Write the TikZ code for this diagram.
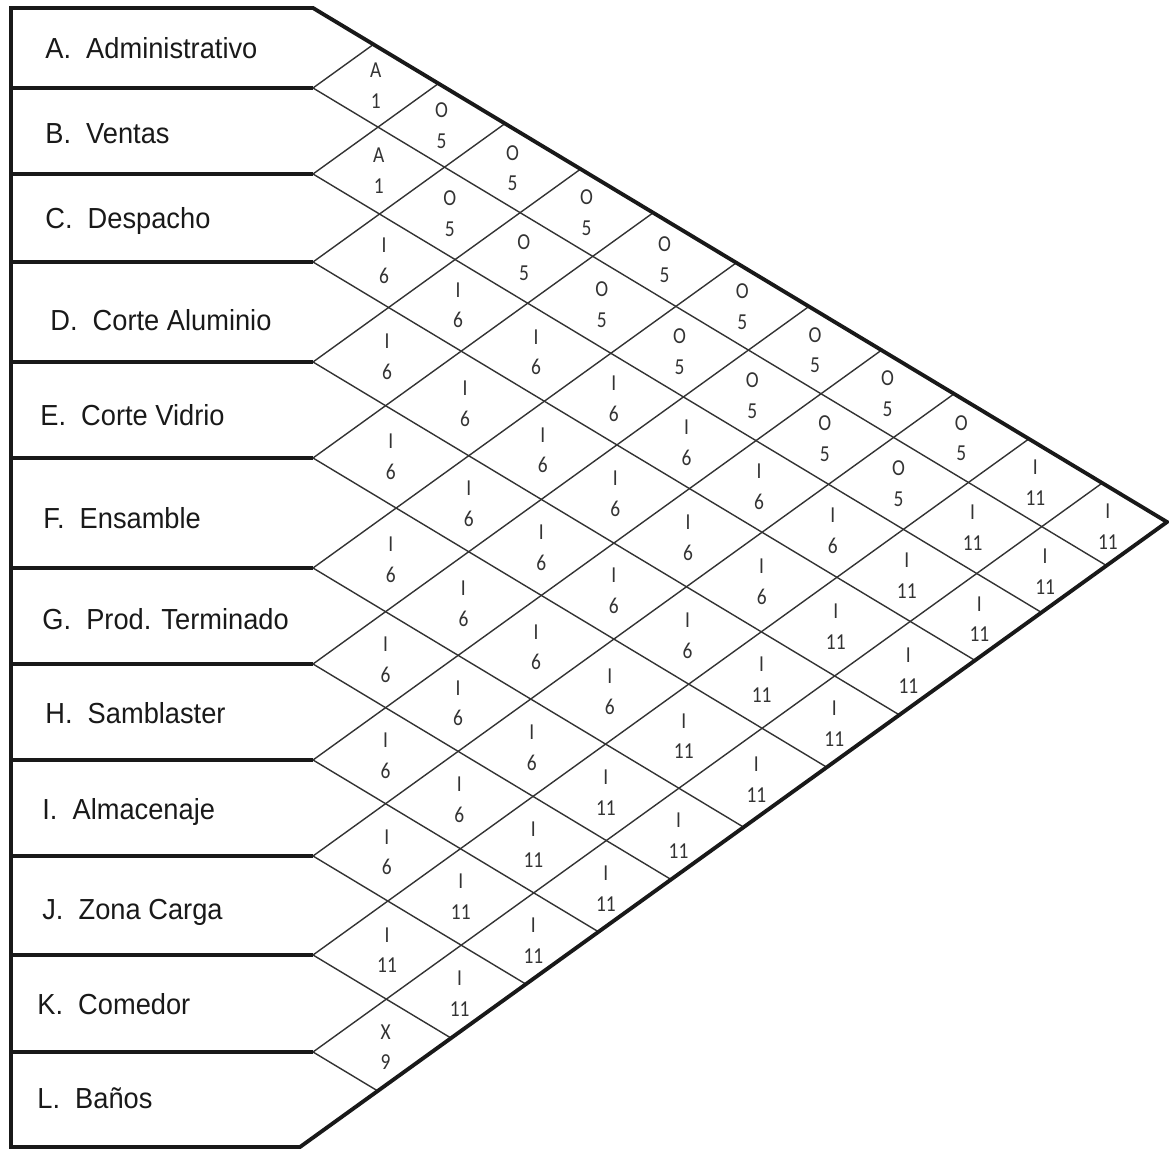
\documentclass[tikz,border=0pt]{standalone}
\usepackage{fontspec}
\setmainfont[FakeStretch=0.94]{Liberation Sans}
\newfontfamily\relfont[FakeStretch=0.85]{Carlito}
\usetikzlibrary{calc}

\tikzset{
    frame/.style={line width=2.2pt, black!90},
    lattice/.style={line width=0.8pt, black!80},
    dept/.style={anchor=base west, inner sep=0pt, text=black!90,
        font=\fontsize{16.5}{18}\selectfont},
    rel/.style={align=center, inner sep=0pt, text=black!80,
        font=\relfont\fontsize{13}{17.5}\selectfont},
}

\begin{document}
\begin{tikzpicture}[x=0.02cm, y=-0.02cm]
    \useasboundingbox (0,0) rectangle (1169,1151);

    % corners of the chart
    \coordinate (W0) at (11,8);
    \coordinate (tl) at (313,8);
    \coordinate (bl) at (300,1147);
    \coordinate (apex) at (1167,522);
    \coordinate (L0) at (313,8);

    % row boundaries and row centres
    \foreach \k/\yy [remember=\k as \prev (initially 0)] in
        {1/88,2/174,3/262,4/362,5/458,6/568,7/664,8/760,9/856,10/955,11/1052,12/1147} {
        \coordinate (W\k) at (11,\yy);
        \coordinate (L\k) at (313,\yy);
        \coordinate (R\k) at ($(L\prev)!0.5!(L\k)$);
        \coordinate (Rd\k) at ($(R\k)+(apex)-(tl)$);
        \coordinate (Ru\k) at ($(R\k)+(apex)-(bl)$);
    }

    % diamond lattice and row separators
    \foreach \k in {1,...,11} {
        \coordinate (Ld\k) at ($(L\k)+(apex)-(tl)$);
        \coordinate (Lu\k) at ($(L\k)+(apex)-(bl)$);
        \coordinate (Et\k) at (intersection cs: first line={(L\k)--(Lu\k)}, second line={(tl)--(apex)});
        \coordinate (Eb\k) at (intersection cs: first line={(L\k)--(Ld\k)}, second line={(bl)--(apex)});
        \draw[lattice] (Et\k) -- (L\k) -- (Eb\k);
        \draw[frame] (W\k) -- (L\k);
    }

    % outline
    \draw[frame] (W0) -- (tl) -- (apex) -- (bl) -- (W12) -- cycle;

    % departments
    \node[dept] (rowA) at (45,59)   {A.~~Administrativo};
    \node[dept] (rowB) at (45,144)  {B.~~Ventas};
    \node[dept] (rowC) at (45,229)  {C.~~Despacho};
    \node[dept] (rowD) at (50,331)  {D.~~Corte Aluminio};
    \node[dept] (rowE) at (40,426)  {E.~~Corte Vidrio};
    \node[dept] (rowF) at (43,529)  {F.~~Ensamble};
    \node[dept] (rowG) at (42,629)  {G.~~Prod. Terminado};
    \node[dept] (rowH) at (45,723)  {H.~~Samblaster};
    \node[dept] (rowI) at (42,819)  {I.~~Almacenaje};
    \node[dept] (rowJ) at (42,919)  {J.~~Zona Carga};
    \node[dept] (rowK) at (37,1014) {K.~~Comedor};
    \node[dept] (rowL) at (37,1108) {L.~~Baños};

    % closeness ratings, one list per row
    \foreach \i/\rels in {
        1/{A/1,O/5,O/5,O/5,O/5,O/5,O/5,O/5,O/5,I/11,I/11},
        2/{A/1,O/5,O/5,O/5,O/5,O/5,O/5,O/5,I/11,I/11},
        3/{I/6,I/6,I/6,I/6,I/6,I/6,I/6,I/11,I/11},
        4/{I/6,I/6,I/6,I/6,I/6,I/6,I/11,I/11},
        5/{I/6,I/6,I/6,I/6,I/6,I/11,I/11},
        6/{I/6,I/6,I/6,I/6,I/11,I/11},
        7/{I/6,I/6,I/6,I/11,I/11},
        8/{I/6,I/6,I/11,I/11},
        9/{I/6,I/11,I/11},
        10/{I/11,I/11},
        11/{X/9}} {
        \foreach \r/\n [count=\c] in \rels {
            \pgfmathtruncatemacro{\j}{\i+\c}
            \coordinate (m\i-\j) at (intersection cs: first line={(R\i)--(Rd\i)}, second line={(R\j)--(Ru\j)});
            \node[rel] (p\i-\j) at (m\i-\j) {\r\\\n};
        }
    }
\end{tikzpicture}
\end{document}
